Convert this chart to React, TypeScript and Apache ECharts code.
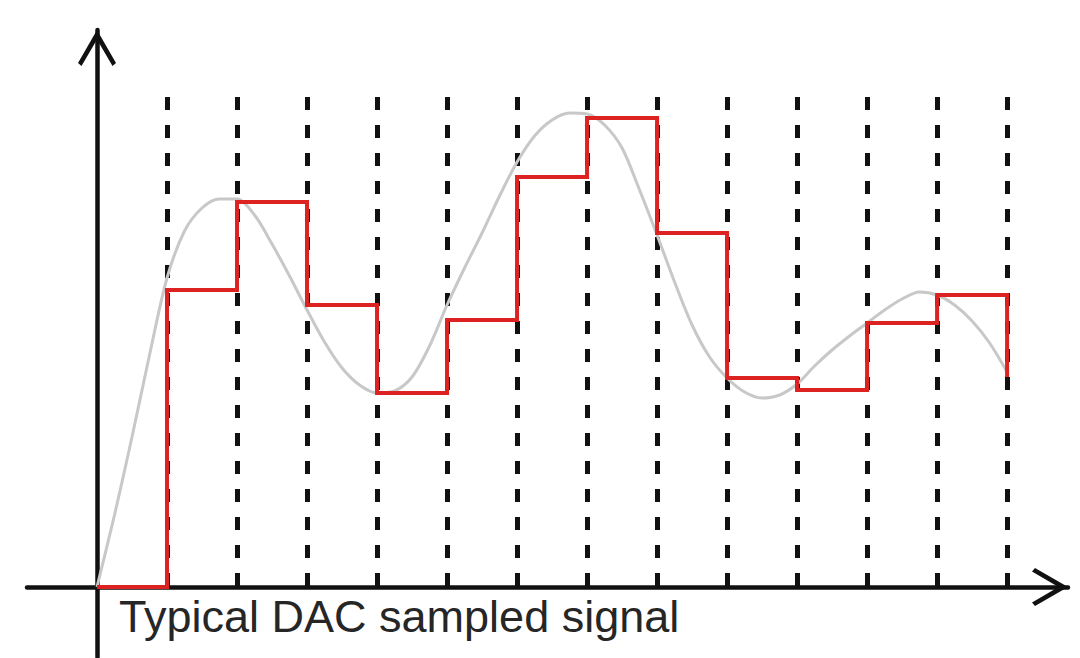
import React, { useEffect, useRef } from "react";
import * as echarts from "echarts";

// sample instants (x in sample periods) and the DAC output level held from each instant
const sampleIndex = [0, 1, 2, 3, 4, 5, 6, 7, 8, 9, 10, 11, 12, 13];
const sampleLevels = [0, 5.94, 7.7, 5.64, 3.88, 5.34, 8.2, 9.38, 7.08, 4.18, 3.94, 5.28, 5.84, 4.2];

// vertical dotted sample markers
const markerIndex = [1, 2, 3, 4, 5, 6, 7, 8, 9, 10, 11, 12, 13];
const markerTop = 9.8;

// the analog (grey) signal, read every quarter sample period
const curveX = [
  0, 0.25, 0.5, 0.75, 1, 1.25, 1.5, 1.75, 2, 2.25, 2.5, 2.75, 3, 3.25, 3.5, 3.75,
  4, 4.25, 4.5, 4.75, 5, 5.25, 5.5, 5.75, 6, 6.25, 6.5, 6.75, 7, 7.25, 7.5, 7.75,
  8, 8.25, 8.5, 8.75, 9, 9.25, 9.5, 9.75, 10, 10.25, 10.5, 10.75, 11, 11.25, 11.5, 11.75,
  12, 12.25, 12.5, 12.75, 13,
];
const curveY = [
  0, 1.44, 3.0, 4.64, 6.18, 7.12, 7.58, 7.76, 7.76, 7.44, 6.86, 6.22, 5.54, 4.9, 4.38, 4.04,
  3.88, 3.92, 4.2, 4.82, 5.64, 6.38, 7.08, 7.82, 8.5, 9.02, 9.34, 9.48, 9.46, 9.24, 8.78, 7.94,
  7.04, 6.1, 5.24, 4.6, 4.18, 3.9, 3.78, 3.84, 4.06, 4.42, 4.74, 5.02, 5.28, 5.54, 5.76, 5.9,
  5.84, 5.64, 5.32, 4.88, 4.3,
];

const caption = "Typical DAC sampled signal";

const xRange = [-1, 13.87];
const yRange = [-1.4, 11.14];

const arrowPath = "path://M19 0L38 33L34.5 36L19 9.5L3.5 36L0 33Z";

export default function App() {
  const ref = useRef<HTMLDivElement>(null);

  useEffect(() => {
    if (!ref.current) return;
    const chart = echarts.init(ref.current, undefined, { renderer: "svg" });

    const axisLine = {
      show: true,
      onZero: true,
      symbol: ["none", arrowPath],
      symbolSize: [38, 36],
      symbolOffset: [0, -18],
      lineStyle: { color: "#111111", width: 4.5 },
    };

    chart.setOption({
      animation: false,
      backgroundColor: "#ffffff",
      title: {
        text: caption,
        left: 119,
        top: 594,
        padding: 0,
        textStyle: {
          fontFamily: "Liberation Sans, Arial, sans-serif",
          fontSize: 45,
          fontWeight: "normal",
          color: "#262626",
          lineHeight: 45,
        },
      },
      grid: { left: 27, right: 12, top: 30, bottom: 1, containLabel: false },
      xAxis: {
        type: "value",
        min: xRange[0],
        max: xRange[1],
        axisLine,
        axisTick: { show: false },
        axisLabel: { show: false },
        splitLine: { show: false },
      },
      yAxis: {
        type: "value",
        min: yRange[0],
        max: yRange[1],
        axisLine,
        axisTick: { show: false },
        axisLabel: { show: false },
        splitLine: { show: false },
      },
      series: [
        {
          type: "line",
          z: 1,
          data: [[0, 0]],
          symbol: "none",
          lineStyle: { opacity: 0 },
          silent: true,
          markLine: {
            z: 1,
            silent: true,
            symbol: ["none", "none"],
            label: { show: false },
            lineStyle: { color: "#111111", width: 5, type: [13, 15] },
            data: markerIndex.map((i) => [
              { coord: [i, markerTop] },
              { coord: [i, 0] },
            ]),
          },
        },
        {
          type: "line",
          z: 3,
          data: curveX.map((x, i) => [x, curveY[i]]),
          smooth: 0.3,
          symbol: "none",
          lineStyle: { color: "#c8c8c8", width: 3 },
          silent: true,
        },
        {
          type: "line",
          z: 4,
          step: "end",
          data: sampleIndex.map((x, i) => [x, sampleLevels[i]]),
          symbol: "none",
          lineStyle: { color: "#dd2222", width: 4, join: "miter" },
          silent: true,
        },
      ],
    });

    return () => chart.dispose();
  }, []);

  return (
    <div
      ref={ref}
      style={{ position: "absolute", left: 0, top: 0, width: 1080, height: 658, background: "#fff" }}
    />
  );
}
